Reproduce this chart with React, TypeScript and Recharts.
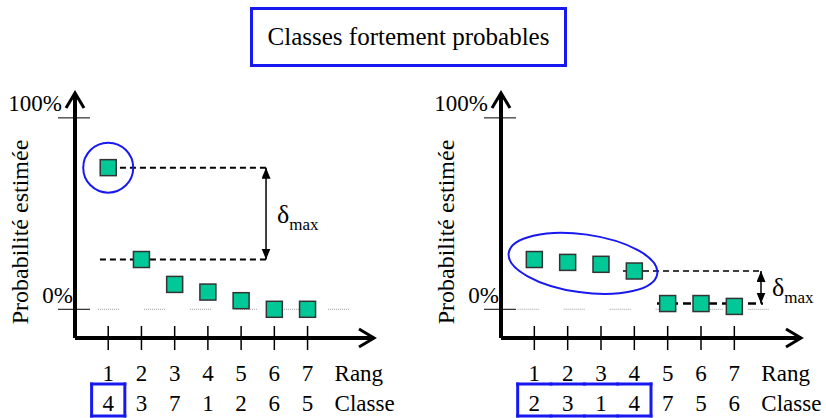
import type { ReactElement } from "react";
import { ScatterChart, Scatter, XAxis, YAxis, ReferenceLine, ReferenceDot } from "recharts";

const RANKS = [1, 2, 3, 4, 5, 6, 7];
const Y_TICKS = [0, 100];
const Y_TICK_LABELS: Record<number, string> = { 0: "0%", 100: "100%" };

// left panel: one class clearly ahead
const LEFT_CLASSES = ["4", "3", "7", "1", "2", "6", "5"];
const LEFT_PROBS = [74, 26, 13, 9, 4.5, 0, 0];
const LEFT_BOXED = [0];

// right panel: a group of close classes
const RIGHT_CLASSES = ["2", "3", "1", "4", "7", "5", "6"];
const RIGHT_PROBS = [26, 24.5, 23.5, 20, 3, 3, 1.5];
const RIGHT_BOXED = [0, 1, 2, 3];

const FONT = "'Liberation Serif', 'Times New Roman', serif";
const GREEN = "#00C896";
const BLUE = "#1818f0";
const W = 413;
const H = 418;

const serif = (size: number) => ({ fontFamily: FONT, fontSize: size });

interface PanelProps {
    probs: number[];
    classes: string[];
    boxed: number[];
    yWidth: number;
    right: number;
    children?: ReactElement[];
}

function Panel({ probs, classes, boxed, yWidth, right, children }: PanelProps): ReactElement {
    const data = RANKS.map((r, i) => ({ rank: r, prob: probs[i] }));
    const step = (W - yWidth - right) / 9;
    const half = step / 2;

    const rankTick = (props: any) => {
        const { x, y, payload } = props;
        const i = payload.value - 1;
        const inBox = boxed.includes(i);
        return (
            <g>
                <line x1={x} x2={x} y1={y - 12} y2={y + 12} stroke="#000" strokeWidth={1.5} />
                <text x={x} y={y + 35} textAnchor="middle" dominantBaseline="central" style={serif(23)} fill="#000">
                    {payload.value}
                </text>
                <text x={x} y={y + 65} textAnchor="middle" dominantBaseline="central" style={serif(23)} fill="#000">
                    {classes[i]}
                </text>
                {inBox && (
                    <g stroke={BLUE} strokeWidth={3} strokeLinecap="square">
                        <line x1={x - half} x2={x + half} y1={y + 46} y2={y + 46} />
                        <line x1={x - half} x2={x + half} y1={y + 78} y2={y + 78} />
                        {i === boxed[0] && <line x1={x - half} x2={x - half} y1={y + 46} y2={y + 78} />}
                        {i === boxed[boxed.length - 1] && <line x1={x + half} x2={x + half} y1={y + 46} y2={y + 78} />}
                    </g>
                )}
            </g>
        );
    };

    const pctTick = (props: any) => {
        const { x, y, payload } = props;
        const v = payload.value;
        return (
            <g>
                <line x1={x - 17} x2={x + 15} y1={y} y2={y} stroke="#000" strokeWidth={1} />
                <text x={v === 100 ? x - 13 : x - 2} y={y - 14} textAnchor="end" dominantBaseline="central" style={serif(23)} fill="#000">
                    {Y_TICK_LABELS[v]}
                </text>
            </g>
        );
    };

    const AxisNames = (props: any) => {
        const { viewBox } = props;
        const x = viewBox.x + 7 * step + 27;
        const y = viewBox.y;
        return (
            <g fill="#000">
                <text x={x} y={y + 35} dominantBaseline="central" style={serif(23)}>Rang</text>
                <text x={x} y={y + 65} dominantBaseline="central" style={serif(23)}>Classe</text>
            </g>
        );
    };

    const YTitle = (props: any) => {
        const { viewBox } = props;
        const cx = viewBox.x + viewBox.width - 55;
        const cy = viewBox.y + 139;
        return (
            <text x={cx} y={cy} transform={`rotate(-90, ${cx}, ${cy})`} textAnchor="middle" dominantBaseline="central" style={serif(24)} fill="#000">
                Probabilité estimée
            </text>
        );
    };

    return (
        <ScatterChart width={W} height={H} margin={{ top: 93, right, bottom: 0, left: 0 }}>
            <XAxis
                type="number"
                dataKey="rank"
                domain={[0, 9]}
                ticks={RANKS}
                height={80}
                tickSize={0}
                tickMargin={0}
                tickLine={false}
                tick={rankTick}
                axisLine={{ stroke: "#000", strokeWidth: 4, markerEnd: "url(#axisHead)" }}
                label={<AxisNames />}
                allowDataOverflow
            />
            <YAxis
                type="number"
                dataKey="prob"
                domain={[-15, 113]}
                ticks={Y_TICKS}
                width={yWidth}
                tickSize={0}
                tickMargin={0}
                tickLine={false}
                tick={pctTick}
                axisLine={{ stroke: "#000", strokeWidth: 4, markerStart: "url(#axisHead)" }}
                label={<YTitle />}
                allowDataOverflow
            />
            <Scatter
                data={data}
                isAnimationActive={false}
                shape={(p: any) => (
                    <rect x={p.cx - 8} y={p.cy - 8} width={16} height={16} fill={GREEN} stroke="#333" strokeWidth={1.5} />
                )}
            />
            {children}
        </ScatterChart>
    );
}

const dotted = Array(10).fill("1 1").join(" ") + " 1 25";

const deltaArrow = (p: any) => (
    <g>
        <line x1={p.x1} y1={p.y1} x2={p.x2} y2={p.y2} stroke="#000" strokeWidth={1.5} markerStart="url(#fillHead)" markerEnd="url(#fillHead)" />
        <text x={p.x1 + 11} y={(p.y1 + p.y2) / 2 + 9} style={{ fontFamily: FONT }} fill="#000">
            <tspan style={{ fontSize: 26 }}>δ</tspan>
            <tspan dy={7} style={{ fontSize: 17 }}>max</tspan>
        </text>
    </g>
);

export default function App(): ReactElement {
    const leftNotes = [
        <ReferenceLine key="base" segment={[{ x: 0.69, y: 0 }, { x: 8.3, y: 0 }]} stroke="#999" strokeWidth={1} strokeDasharray={dotted} />,
        <ReferenceLine key="top" segment={[{ x: 0.75, y: LEFT_PROBS[0] }, { x: 5.78, y: LEFT_PROBS[0] }]} stroke="#000" strokeWidth={2} strokeDasharray="6 4" />,
        <ReferenceLine key="second" segment={[{ x: 0.75, y: LEFT_PROBS[1] }, { x: 5.78, y: LEFT_PROBS[1] }]} stroke="#000" strokeWidth={2} strokeDasharray="6 4" />,
        <ReferenceLine key="delta" segment={[{ x: 5.75, y: LEFT_PROBS[0] }, { x: 5.75, y: LEFT_PROBS[1] }]} shape={deltaArrow} />,
        <ReferenceDot key="circle" x={1} y={LEFT_PROBS[0]} r={25} fill="none" stroke={BLUE} strokeWidth={2} />,
    ];

    const rightNotes = [
        <ReferenceLine key="base" segment={[{ x: 0.5, y: 0 }, { x: 8.7, y: 0 }]} stroke="#999" strokeWidth={1} strokeDasharray={dotted} />,
        <ReferenceLine key="top" segment={[{ x: 3.66, y: RIGHT_PROBS[3] }, { x: 7.86, y: RIGHT_PROBS[3] }]} stroke="#000" strokeWidth={1.5} strokeDasharray="6 4" />,
        <ReferenceLine key="low" segment={[{ x: 4.68, y: RIGHT_PROBS[4] }, { x: 7.86, y: RIGHT_PROBS[4] }]} stroke="#000" strokeWidth={2.5} strokeDasharray="8 5" />,
        <ReferenceLine key="delta" segment={[{ x: 7.8, y: RIGHT_PROBS[3] }, { x: 7.8, y: RIGHT_PROBS[4] }]} shape={deltaArrow} />,
        <ReferenceDot
            key="ellipse"
            x={2.46}
            y={24}
            shape={(p: any) => (
                <ellipse cx={p.cx} cy={p.cy} rx={75} ry={29} transform={`rotate(8, ${p.cx}, ${p.cy})`} fill="none" stroke={BLUE} strokeWidth={2} />
            )}
        />,
    ];

    return (
        <div style={{ position: "absolute", left: 0, top: 0, width: 826, height: 418, background: "#fff" }}>
            <svg width={0} height={0} style={{ position: "absolute" }}>
                <defs>
                    <marker id="axisHead" markerUnits="userSpaceOnUse" markerWidth={20} markerHeight={22} refX={15} refY={10} orient="auto-start-reverse" overflow="visible">
                        <path d="M0,1 L15,10 L0,19" fill="none" stroke="#000" strokeWidth={3} />
                    </marker>
                    <marker id="fillHead" markerUnits="userSpaceOnUse" markerWidth={12} markerHeight={10} refX={11} refY={4.5} orient="auto-start-reverse">
                        <path d="M0,0 L11,4.5 L0,9 Z" fill="#000" />
                    </marker>
                </defs>
            </svg>
            <div
                style={{
                    position: "absolute",
                    left: 250,
                    top: 7,
                    width: 317,
                    height: 60,
                    boxSizing: "border-box",
                    border: `3px solid ${BLUE}`,
                    display: "flex",
                    alignItems: "center",
                    justifyContent: "center",
                    fontFamily: FONT,
                    fontSize: 25,
                    color: "#000",
                }}
            >
                Classes fortement probables
            </div>
            <div style={{ position: "absolute", left: 0, top: 0 }}>
                <Panel probs={LEFT_PROBS} classes={LEFT_CLASSES} boxed={LEFT_BOXED} yWidth={75} right={39}>
                    {leftNotes}
                </Panel>
            </div>
            <div style={{ position: "absolute", left: 413, top: 0 }}>
                <Panel probs={RIGHT_PROBS} classes={RIGHT_CLASSES} boxed={RIGHT_BOXED} yWidth={88} right={25}>
                    {rightNotes}
                </Panel>
            </div>
        </div>
    );
}
